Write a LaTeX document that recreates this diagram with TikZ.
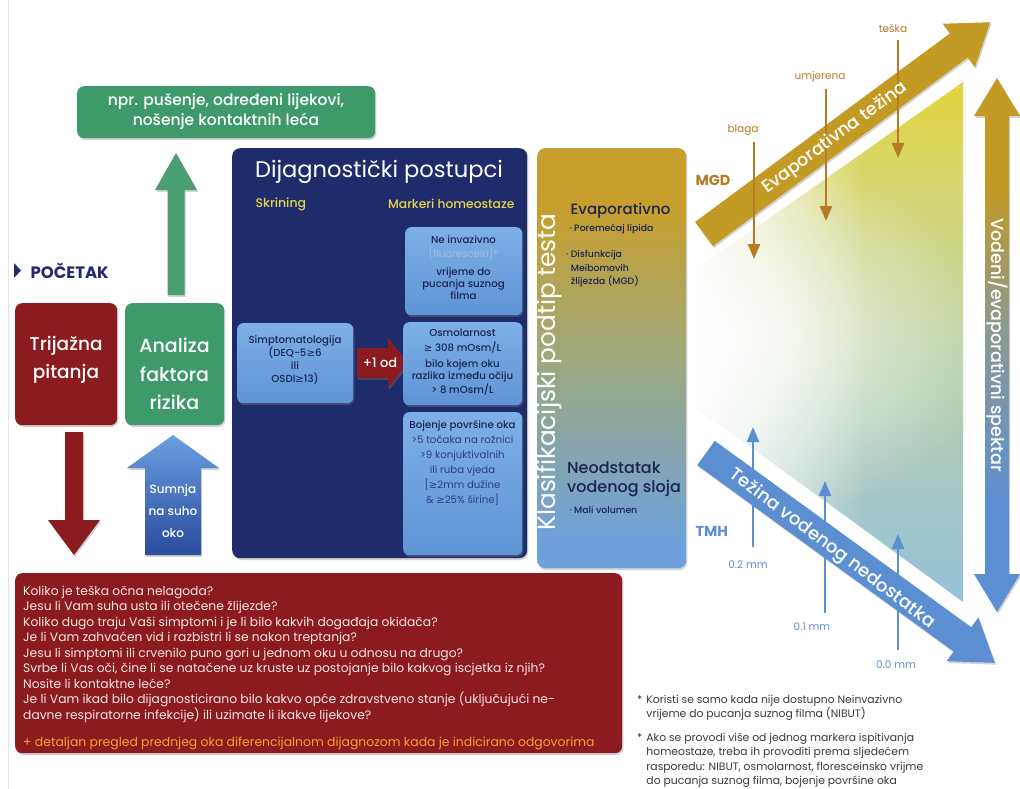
\documentclass[tikz,border=0pt]{standalone}
\usepackage{fontspec}
\setmainfont{Poppins}
\newfontfamily\pmed{Poppins Medium}
\newfontfamily\symf{DejaVu Sans}
\usetikzlibrary{arrows.meta,shadows,fadings}
\definecolor{navy}{HTML}{1F2C6B}
\definecolor{dred}{HTML}{8C1B1F}
\definecolor{mgreen}{HTML}{3F9A6B}
\definecolor{agreen}{HTML}{4A9F72}
\definecolor{lbluetop}{HTML}{7DB0E7}
\definecolor{lbluebot}{HTML}{5F94D5}
\definecolor{gold}{HTML}{C39A24}
\definecolor{brn}{HTML}{B67B24}
\definecolor{mblue}{HTML}{5B8FD2}
\definecolor{btxt}{HTML}{1A2453}
\definecolor{yel}{HTML}{E4D64C}
\definecolor{orng}{HTML}{F2A431}
\definecolor{pinkw}{HTML}{F4E6E2}
\definecolor{kgold}{HTML}{C89F2D}
\definecolor{kmid}{HTML}{9DA97D}
\definecolor{kblue}{HTML}{6FA2DC}
\definecolor{tyel}{HTML}{EFD10A}
\definecolor{tmid}{HTML}{D6D770}
\definecolor{tgrn}{HTML}{B2CDB0}
\definecolor{tblue}{HTML}{8DBDE9}
\definecolor{vmid}{HTML}{8E9A8E}
\definecolor{ftxt}{HTML}{3A3A3A}
\definecolor{fgray}{HTML}{A9BCDD}
\definecolor{sumtop}{HTML}{6A9FE0}
\definecolor{sumbot}{HTML}{2A4A9E}
\definecolor{bline}{HTML}{2B3F7C}
\pgfdeclareverticalshading{klas}{100bp}{color(0bp)=(kblue); color(28bp)=(kblue); color(50bp)=(kmid); color(68bp)=(kgold); color(100bp)=(kgold)}
\pgfdeclareverticalshading{tri}{100bp}{color(0bp)=(tblue); color(18bp)=(tblue); color(45bp)=(tgrn); color(65bp)=(tmid); color(85bp)=(tyel); color(100bp)=(tyel)}
\pgfdeclareverticalshading{vspec}{100bp}{color(0bp)=(mblue); color(35bp)=(mblue); color(52bp)=(vmid); color(65bp)=(gold); color(100bp)=(gold)}
\tikzfading[name=fadewhite, left color=transparent!0, middle color=transparent!60, right color=transparent!100]
\tikzfading[name=radw, inner color=transparent!0, outer color=transparent!100]
\newcommand\fsz[2]{\fontsize{#1}{#2}\selectfont}
\newcommand\gesym{{\symf ≥}}
\newcommand\fatarrow[7]{%
  \path[#1, shift={#2}, rotate=#3] (0,-#5) -- ({#4-#7},-#5) -- ({#4-#7},-#6) -- (#4,0)
    -- ({#4-#7},#6) -- ({#4-#7},#5) -- (0,#5) -- cycle;}
\tikzset{
  shad/.style={drop shadow={opacity=0.35, shadow xshift=1.2pt, shadow yshift=-1.8pt}},
  box/.style={shad, rounded corners=7pt, inner sep=0pt, anchor=north west},
  lbox/.style={box, top color=lbluetop, bottom color=lbluebot, rounded corners=6pt},
  btext/.style={text=btxt, align=center, font=\pmed\fsz{10.2}{12}},
  wtext/.style={text=white, align=center},
  brarr/.style={brn, line width=2.6pt, -{Triangle[length=15pt,width=12pt]}},
  blarr/.style={mblue, line width=2.6pt, -{Triangle[length=15pt,width=12pt]}},
  brlab/.style={text=brn, font=\fsz{10.5}{12}},
  bllab/.style={text=mblue, font=\fsz{10.5}{12}},
}
\begin{document}
\begin{tikzpicture}[x=1pt,y=-1pt]
\useasboundingbox (0,0) rectangle (1020,789);
\fill[white] (0,0) rectangle (1020,789);
\draw[black!10, line width=0.8pt] (8,0) -- (8,789);

% ---------- left column ----------
\node[box, fill=mgreen, minimum width=298pt, minimum height=52pt] (risks) at (77,86) {};
\node[wtext, font=\pmed\fsz{15.5}{20}] (riskstxt) at (226,112)
  {npr. pušenje, određeni lijekovi,\\nošenje kontaktnih leća};

\path[shad, fill=agreen] (176,153) -- (197,190) -- (184.5,190) -- (184.5,295)
  -- (167.5,295) -- (167.5,190) -- (155,190) -- cycle;

\fill[navy] (14,263) -- (21,270.5) -- (14,278) -- cycle;
\node[anchor=west, text=navy, font=\bfseries\fsz{16.5}{17}] (start) at (27,271) {POČETAK};

\node[box, fill=dred, minimum width=102pt, minimum height=122pt] (trij) at (15,303) {};
\node[wtext, font=\pmed\fsz{18.5}{28}] (trijtxt) at (66,360) {Trijažna\\pitanja};
\node[box, fill=mgreen, minimum width=99pt, minimum height=122pt] (anal) at (125,303) {};
\node[wtext, font=\pmed\fsz{19}{28.5}] (analtxt) at (174.5,374) {Analiza\\faktora\\rizika};

\path[shad, fill=dred] (74,555) -- (100,520) -- (83,520) -- (83,432) -- (65,432)
  -- (65,520) -- (48,520) -- cycle;
\path[shad, top color=sumtop, bottom color=sumbot] (173,435) -- (219,468) -- (201,468)
  -- (201,555) -- (145,555) -- (145,468) -- (127,468) -- cycle;
\node[wtext, font=\pmed\fsz{12}{22}] (sumnja) at (173,511) {Sumnja\\na suho\\oko};

% ---------- diagnostic box ----------
\node[box, fill=navy, minimum width=295pt, minimum height=410pt, rounded corners=8pt] (diag) at (232,148) {};
\node[text=white, font=\fsz{22.6}{24}] (diagt) at (379,172) {Dijagnostički postupci};
\node[anchor=west, text=yel, font=\pmed\fsz{12.5}{13}] (skr) at (252,204) {Skrining};
\node[anchor=east, text=yel, font=\pmed\fsz{12.3}{13}] (mark) at (518,204) {Markeri homeostaze};

\node[lbox, minimum width=117pt, minimum height=88pt] (b1) at (405,227) {};
\node[btext] (b1t) at (463.5,267.5)
  {Ne invazivno\\[1.5pt]{\fontspec{Poppins}\textcolor{fgray}{[fluorescein]*}}\\[6pt]vrijeme do\\pucanja suznog\\filma};

\node[lbox, minimum width=116pt, minimum height=80pt] (sim) at (237,323) {};
\node[btext, font=\pmed\fsz{10.2}{13}] (simt) at (295,360)
  {Simptomatologija\\(DEQ-5\gesym6\\ili\\OSDI\gesym13)};

\path[shad, fill=dred] (357,348) -- (388,348) -- (388,338) -- (408,363) -- (388,388)
  -- (388,378) -- (357,378) -- cycle;
\node[wtext, font=\pmed\fsz{13}{14}] (plus) at (380,363) {+1 od};

\node[lbox, minimum width=119pt, minimum height=83pt] (b2) at (403,322) {};
\node[btext] (b2t) at (462.5,362)
  {Osmolarnost\\[3pt]\gesym\ 308 mOsm/L\\[4pt]bilo kojem oku\\razlika između očiju\\> 8 mOsm/L};

\node[lbox, minimum width=119pt, minimum height=143pt] (b3) at (403,412) {};
\node[btext, font=\pmed\fsz{10.2}{15}] (b3t) at (462.5,463)
  {Bojenje površine oka\\{\fontspec{Poppins}\color{bline}>5 točaka na rožnici}\\{\fontspec{Poppins}\color{bline}>9 konjuktivalnih}\\{\fontspec{Poppins}\color{bline}ili ruba vjeda}\\{\fontspec{Poppins}\color{bline}[\gesym 2mm dužine}\\{\fontspec{Poppins}\color{bline}\& \gesym 25\% širine]}};

% ---------- classification column ----------
\node[box, shade, shading=klas, minimum width=149pt, minimum height=420pt, rounded corners=8pt] (klas) at (537,148) {};
\node[rotate=90, text=white, font=\fsz{24.8}{25}] (klast) at (549,372) {Klasifikacijski podtip testa};
\node[anchor=west, text=btxt, font=\pmed\fsz{15}{16}] (evap) at (567,211) {Evaporativno};
\node[anchor=west, text=btxt, font=\pmed\fsz{9.3}{10}] (lip) at (566,229) {· Poremećaj lipida};
\node[anchor=north west, text=btxt, align=left, font=\pmed\fsz{9.3}{13.8}, inner sep=0pt] (mgdl) at (566,250)
  {· Disfunkcija\\\phantom{· }Meibomovih\\\phantom{· }žlijezda (MGD)};
\node[anchor=north west, text=btxt, align=left, font=\pmed\fsz{16}{19}, inner sep=0pt] (neod) at (567,461)
  {Neodstatak\\vodenog sloja};
\node[anchor=west, text=btxt, font=\pmed\fsz{9.3}{10}] (mali) at (566,510) {· Mali volumen};

% ---------- spectrum triangle ----------
\path[shade, shading=tri] (695,271) -- (963,82) -- (963,602) -- (695,406) -- cycle;
\begin{scope}
  \clip (695,271) -- (963,82) -- (963,602) -- (695,406) -- cycle;
  \fill[white, path fading=fadewhite] (693,78) rectangle (865,606);
  \fill[white, path fading=radw] (700,340) ellipse [x radius=300, y radius=190];
\end{scope}

% vertical double arrow
\path[shad, shade, shading=vspec] (997,78) -- (1020,116) -- (1009,116) -- (1009,574) -- (1020,574)
  -- (997,612) -- (974,574) -- (985,574) -- (985,116) -- (974,116) -- cycle;
\node[rotate=-90, text=white, font=\pmed\fsz{17.5}{18}] (spek) at (997,345) {Vodeni/evaporativni spektar};

% diagonal arrows
\fatarrow{shad, fill=gold}{(704,234)}{36.5}{356}{15}{27}{39}
\fatarrow{shad, fill=mblue}{(706,453)}{-36}{357}{15}{27}{40}

\node[anchor=west, text=brn, font=\bfseries\fsz{14.5}{15}] (mgd) at (692,180) {MGD};
\node[anchor=west, text=mblue, font=\bfseries\fsz{14.5}{15}] (tmh) at (692,531) {TMH};

% severity arrows
\node[brlab] (blaga) at (743,130) {blaga};
\node[brlab] (umj) at (820,77) {umjerena};
\node[brlab] (teska) at (893,29) {teška};
\coordinate (b1s) at (754,142); \coordinate (b1e) at (754,259);
\coordinate (b2s) at (826,89);  \coordinate (b2e) at (826,221);
\coordinate (b3s) at (898,40);  \coordinate (b3e) at (898,158);
\draw[brarr] (b1s) -- (b1e);
\draw[brarr] (b2s) -- (b2e);
\draw[brarr] (b3s) -- (b3e);

\node[bllab] (m2) at (748,565) {0.2 mm};
\node[bllab] (m1) at (812,627) {0.1 mm};
\node[bllab] (m0) at (896,665) {0.0 mm};
\coordinate (t2s) at (753,547); \coordinate (t2e) at (753,427);
\coordinate (t1s) at (825,613); \coordinate (t1e) at (825,481);
\coordinate (t0s) at (898,650); \coordinate (t0e) at (898,534);
\draw[blarr] (t2s) -- (t2e);
\draw[blarr] (t1s) -- (t1e);
\draw[blarr] (t0s) -- (t0e);

% arrow texts on top
\node[rotate=36.5, text=white, font=\pmed\fsz{17.5}{18}] (evt) at (835,138) {Evaporativna težina};
\node[rotate=-37, text=white, font=\pmed\fsz{18}{18}] (vnt) at (832,549) {Težina vodenog nedostatka};

% ---------- question box ----------
\node[box, fill=dred, minimum width=607pt, minimum height=180pt] (qbox) at (15,573) {};
\node[anchor=north west, inner sep=0pt, align=left, text=pinkw, font=\fsz{12.3}{15.5}] (qtxt) at (23,585.5)
 {Koliko je teška očna nelagoda?\\
  Jesu li Vam suha usta ili otečene žlijezde?\\
  Koliko dugo traju Vaši simptomi i je li bilo kakvih događaja okidača?\\
  Je li Vam zahvaćen vid i razbistri li se nakon treptanja?\\
  Jesu li simptomi ili crvenilo puno gori u jednom oku u odnosu na drugo?\\
  Svrbe li Vas oči, čine li se natačene uz kruste uz postojanje bilo kakvog iscjetka iz njih?\\
  Nosite li kontaktne leće?\\
  Je li Vam ikad bilo dijagnosticirano bilo kakvo opće zdravstveno stanje (uključujući ne-\\
  davne respiratorne infekcije) ili uzimate li ikakve lijekove?};
\node[anchor=base west, inner sep=0pt, text=orng, font=\fsz{12.4}{13}] (qdet) at (23,746)
 {+ detaljan pregled prednjeg oka diferencijalnom dijagnozom kada je indicirano odgovorima};

% ---------- footnotes ----------
\node[anchor=north west, inner sep=0pt, align=left, text=ftxt, font=\fsz{10.8}{14.5}] (fn1) at (637,695)
 {*\hspace{4pt}Koristi se samo kada nije dostupno Neinvazivno\\
  \phantom{*}\hspace{4pt}vrijeme do pucanja suznog filma (NIBUT)};
\node[anchor=north west, inner sep=0pt, align=left, text=ftxt, font=\fsz{10.8}{14.3}] (fn2) at (637,733)
 {*\hspace{4pt}Ako se provodi više od jednog markera ispitivanja\\
  \phantom{*}\hspace{4pt}homeostaze, treba ih provoditi prema sljedećem\\
  \phantom{*}\hspace{4pt}rasporedu: NIBUT, osmolarnost, floresceinsko vrijme\\
  \phantom{*}\hspace{4pt}do pucanja suznog filma, bojenje površine oka};
\end{tikzpicture}
\end{document}
